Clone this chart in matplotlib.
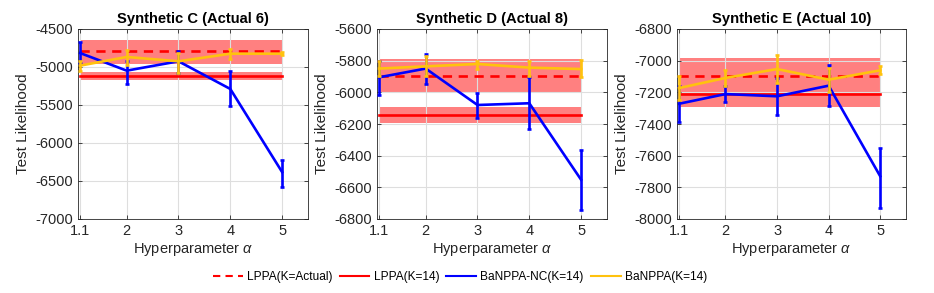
import matplotlib.pyplot as plt
from matplotlib.lines import Line2D
import numpy as np

plt.rcParams['font.family'] = ['Liberation Sans', 'DejaVu Sans']
plt.rcParams['mathtext.fontset'] = 'custom'
plt.rcParams['mathtext.it'] = 'Liberation Sans:italic'
plt.rcParams['axes.unicode_minus'] = False

alphas = [1.1, 2, 3, 4, 5]
titles = ['Synthetic C (Actual 6)', 'Synthetic D (Actual 8)', 'Synthetic E (Actual 10)']

# LPPA(K=Actual): mean, band low, band high
lppa_act = [(-4795, -4960, -4640), (-5895, -6004, -5789), (-7095, -7293, -6985)]
# LPPA(K=14): mean, band low, band high
lppa_14 = [(-5118, -5175, -5061), (-6141, -6192, -6091), (-7213, -7280, -7150)]

nc_mean = [[-4816, -5048, -4925, -5289, -6382],
           [-5905, -5850, -6080, -6069, -6552],
           [-7272, -7211, -7225, -7158, -7730]]
nc_lo = [[-4947, -5224, -5079, -5518, -6579],
         [-6015, -5947, -6160, -6232, -6745],
         [-7385, -7263, -7341, -7288, -7928]]
nc_hi = [[-4675, -4925, -4794, -5057, -6224],
         [-5802, -5756, -6002, -5901, -6362],
         [-7158, -7158, -7112, -7029, -7552]]

ba_mean = [[-4982, -4868, -4925, -4825, -4825],
           [-5850, -5836, -5821, -5844, -5853],
           [-7173, -7109, -7053, -7120, -7061]]
ba_lo = [[-5057, -4969, -5079, -4895, -4845],
         [-5895, -5895, -5850, -5897, -5903],
         [-7251, -7158, -7141, -7200, -7082]]
ba_hi = [[-4917, -4781, -4816, -4763, -4805],
         [-5802, -5773, -5800, -5800, -5798],
         [-7095, -7061, -6964, -7044, -7036]]

ylims = [(-7000, -4500), (-6800, -5600), (-8000, -6800)]
yticks = [np.arange(-7000, -4499, 500), np.arange(-6800, -5599, 200), np.arange(-8000, -6799, 200)]

blue = '#0000ff'
yellow = '#ffc20e'
red = '#ff0000'
band = '#ff8080'
lw = 1.9

W, H = 934, 293
fig = plt.figure(figsize=(W / 100, H / 100), dpi=100)
lefts = [78, 377, 677]
widths = [230, 230, 229]
top, bottom = 29, 219

for i in range(3):
    ax = fig.add_axes([lefts[i] / W, 1 - bottom / H, widths[i] / W, (bottom - top) / H])
    x0, x1 = alphas[0], alphas[-1]
    ax.fill_between([x0, x1], lppa_act[i][1], lppa_act[i][2], color=band, lw=0, zorder=0.3)
    ax.fill_between([x0, x1], lppa_14[i][1], lppa_14[i][2], color=band, lw=0, zorder=0.3)
    ax.plot([x0, x1], [lppa_act[i][0]] * 2, '--', color=red, lw=lw, dashes=(3.5, 2.5), zorder=1)
    ax.plot([x0, x1], [lppa_14[i][0]] * 2, '-', color=red, lw=lw, zorder=1)

    m = np.array(nc_mean[i])
    ax.errorbar(alphas, m, yerr=[m - np.array(nc_lo[i]), np.array(nc_hi[i]) - m],
                color=blue, lw=lw, elinewidth=lw, capsize=1.6, capthick=lw, zorder=3)
    m = np.array(ba_mean[i])
    ax.errorbar(alphas, m, yerr=[m - np.array(ba_lo[i]), np.array(ba_hi[i]) - m],
                color=yellow, lw=lw, elinewidth=lw, capsize=1.6, capthick=lw, zorder=4)

    ax.set_xlim(1.06, 5.5)
    ax.set_ylim(*ylims[i])
    ax.set_xticks(alphas)
    ax.set_xticklabels(['1.1', '2', '3', '4', '5'])
    ax.set_yticks(yticks[i])
    ax.grid(True, color='#dedede', lw=0.8)
    ax.set_axisbelow(True)
    ax.tick_params(direction='in', labelsize=10.5, colors='#262626', length=3,
                   top=True, right=True, width=0.6)
    for s in ax.spines.values():
        s.set_color('#262626')
        s.set_linewidth(0.6)
    ax.set_title(titles[i], fontsize=10.6, fontweight='bold', pad=4)
    ax.set_ylabel('Test Likelihood', fontsize=11, color='#262626')
    ax.set_xlabel(r'Hyperparameter $\alpha$', fontsize=10.5, color='#262626', labelpad=2)

handles = [Line2D([], [], color=red, ls='--', lw=1.5, dashes=(3.5, 2.5)),
           Line2D([], [], color=red, lw=1.5),
           Line2D([], [], color=blue, lw=1.5),
           Line2D([], [], color=yellow, lw=1.5)]
labels = ['LPPA(K=Actual)', 'LPPA(K=14)', 'BaNPPA-NC(K=14)', 'BaNPPA(K=14)']
fig.legend(handles, labels, loc='center', bbox_to_anchor=(460 / W, 1 - 277 / H), ncol=4,
           frameon=False, fontsize=8.6, handlelength=2.5, handletextpad=0.35, columnspacing=0.6)

fig.savefig('out.png', dpi=100)
